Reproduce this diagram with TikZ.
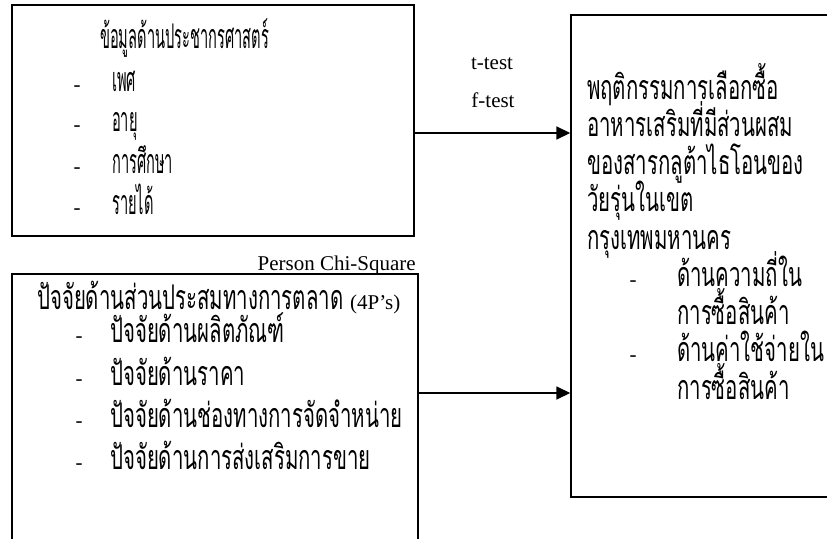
\documentclass[tikz,border=0pt]{standalone}
\usepackage{fontspec}
\setmainfont{Liberation Serif}
\newfontfamily\thai[Script=Thai,FakeStretch=0.6]{Loma}
\newfontfamily\thainarrow[Script=Thai,FakeStretch=0.43]{Loma}
\usetikzlibrary{arrows.meta}
\begin{document}
\begin{tikzpicture}[x=1pt,y=-1pt,
  box/.style={draw, line width=1.4pt, inner sep=0pt, rectangle},
  th/.style={font=\thai\fontsize{34}{34}\selectfont, inner sep=0pt, anchor=base west},
  thn/.style={font=\thainarrow\fontsize{34}{34}\selectfont, inner sep=0pt, anchor=base west},
  lat/.style={font=\fontsize{21}{21}\selectfont, inner sep=0pt},
  dashmark/.style={font=\fontsize{21}{21}\selectfont, inner sep=0pt, anchor=base},
  arr/.style={-{Triangle[length=14pt,width=13pt]}, line width=1.6pt}]
\useasboundingbox (0,0) rectangle (827,538);
\fill[white] (0,0) rectangle (827,538);
\clip (0,0) rectangle (827,538);

% boxes
\node[box, minimum width=402pt, minimum height=231pt] (b1) at (213,120.5) {};
\node[box, minimum width=406pt, minimum height=288pt] (b2) at (215,418) {};
\node[box, minimum width=274pt, minimum height=482pt] (b3) at (708,256) {};

% box 1 text
\node[thn] (t1) at (100,48) {ข้อมูลด้านประชากรศาสตร์};
\foreach \n/\yy/\txt in {1/91/เพศ, 2/131/อายุ, 3/173/การศึกษา, 4/214/รายได้}{
  \node[dashmark] (d1\n) at (77,\yy) {-};
  \node[thn] (i1\n) at (112,\yy) {\txt};
}

% box 2 text
\node[th] (t2) at (37,309) {ปัจจัยด้านส่วนประสมทางการตลาด \fontspec{Liberation Serif}\fontsize{21}{21}\selectfont(4P’s)};
\foreach \n/\yy/\txt in {1/342/ปัจจัยด้านผลิตภัณฑ์, 2/385/ปัจจัยด้านราคา, 3/427/ปัจจัยด้านช่องทางการจัดจำหน่าย, 4/469/ปัจจัยด้านการส่งเสริมการขาย}{
  \node[dashmark] (d2\n) at (79,\yy) {-};
  \node[th] (i2\n) at (110,\yy) {\txt};
}

% box 3 text
\foreach \n/\yy/\txt in {1/99/พฤติกรรมการเลือกซื้อ, 2/136.5/อาหารเสริมที่มีส่วนผสม, 3/174/ของสารกลูต้าไธโอนของ, 4/211.5/วัยรุ่นในเขต, 5/249/กรุงเทพมหานคร}{
  \node[th] (l3\n) at (587,\yy) {\txt};
}
\foreach \n/\yy/\txt in {6/286.5/ด้านความถี่ใน, 7/324/การซื้อสินค้า, 8/361.5/ด้านค่าใช้จ่ายใน, 9/399/การซื้อสินค้า}{
  \node[th] (l3\n) at (677,\yy) {\txt};
}
\node[dashmark] (d31) at (633,286.5) {-};
\node[dashmark] (d32) at (633,361.5) {-};

% labels
\node[lat, anchor=base] (tt) at (492,69) {t-test};
\node[lat, anchor=base] (ft) at (493,107) {f-test};
\node[lat, anchor=base east] (pc) at (416,270) {Person Chi-Square};

% arrows
\coordinate (a1) at (0,133);
\coordinate (a2) at (0,393);
\draw[arr] (b1.east |- a1) -- (b3.west |- a1);
\draw[arr] (b2.east |- a2) -- (b3.west |- a2);
\end{tikzpicture}
\end{document}
